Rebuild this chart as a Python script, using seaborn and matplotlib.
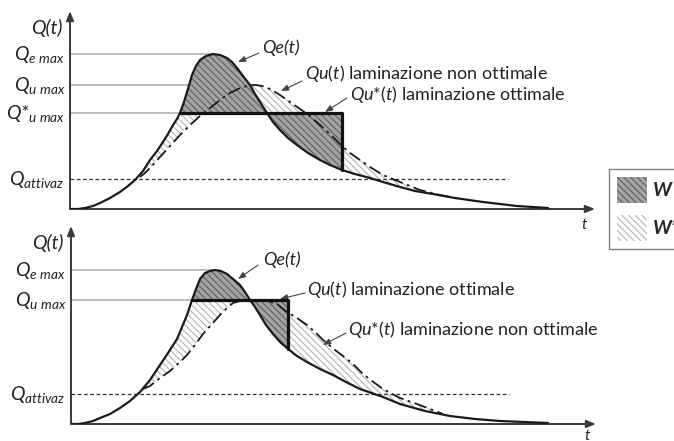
import matplotlib
matplotlib.use("Agg")
import matplotlib.pyplot as plt
from matplotlib.patches import Patch
import seaborn as sns

# ---- top panel: Qe(t) inflow, Qu(t) non optimal, Qu*(t) optimal ----
t_e_top = [0, 8, 15, 23, 30, 40, 50, 58, 65, 73, 80, 87, 93, 98, 103, 107, 110, 114, 117, 120,
           122, 126, 130, 136, 143, 150, 157, 162, 167, 173, 180, 185, 190, 197, 203, 210, 218,
           227, 238, 250, 260, 272, 285, 300, 313, 330, 345, 363, 385, 413, 447, 478]
q_e_top = [0, 0, 1, 3, 6, 11, 17, 23, 29, 38, 49, 58, 67, 75, 84, 90, 96, 107, 117, 127,
           134, 143, 149, 153, 155, 154, 151, 147, 141, 133, 124, 115, 107, 96, 87, 79, 71,
           64, 56, 49, 44, 39, 35, 31, 27, 22, 18, 15, 11, 7, 3, 1]
t_u_top = [70, 75, 80, 90, 100, 110, 120, 130, 140, 150, 160, 170, 180, 186, 192, 200, 210, 220,
           230, 240, 250, 260, 272, 280, 290, 300, 313, 330, 350, 370, 385]
q_u_top = [32, 36, 41, 52, 63, 74, 84, 93, 101, 109, 116, 121, 124, 124, 123, 120, 114, 107,
           100, 93, 84, 75, 63, 56, 49, 42, 34, 27, 19, 14, 11]
t_star_top = [110, 272, 272]
q_star_top = [96, 96, 39]

# ---- bottom panel: Qe(t) inflow, Qu(t) optimal, Qu*(t) non optimal ----
t_e_bot = [0, 7, 14, 22, 29, 39, 49, 59, 69, 79, 89, 97, 106, 111, 116, 121, 125, 129, 134, 139,
           144, 150, 156, 162, 169, 174, 179, 184, 189, 195, 202, 209, 217, 226, 236, 249, 262,
           275, 289, 312, 329, 354, 379, 404, 429, 477]
q_e_bot = [0, 0, 1, 3, 6, 10, 16, 23, 32, 44, 59, 71, 85, 97, 109, 124, 135, 145, 151, 153,
           154, 153, 150, 145, 139, 132, 124, 117, 109, 99, 90, 82, 75, 68, 62, 55, 49,
           42, 35, 27, 20, 13, 8, 5, 3, 1]
t_u_bot = [121, 217, 217]
q_u_bot = [124, 124, 75]
t_star_bot = [72, 79, 89, 99, 109, 116, 124, 132, 141, 149, 156, 162, 169, 179, 187, 194, 200,
              206, 216, 226, 236, 244, 252, 264, 276, 284, 291, 301, 312, 329, 346, 359, 372]
q_star_bot = [35, 38, 46, 53, 62, 69, 79, 90, 100, 109, 116, 121, 123, 124, 124, 123, 122,
              120, 112, 106, 99, 92, 84, 74, 65, 58, 51, 43, 35, 26, 20, 15, 10]

q_attivaz = 30
attivaz_end = 438

sns.set_style("white")
plt.rcParams["font.family"] = ["Lato", "DejaVu Sans"]
plt.rcParams["mathtext.fontset"] = "custom"
plt.rcParams["mathtext.rm"] = "Lato"
plt.rcParams["mathtext.it"] = "Lato:italic"
plt.rcParams["mathtext.bf"] = "Lato:bold"
plt.rcParams["hatch.linewidth"] = 0.9

DARK_FACE, DARK_HATCH = "#a4a4a4", "#646464"
LIGHT_FACE, LIGHT_HATCH = "white", "#bababa"
HATCH = "\\\\\\\\\\"
TXT = "#222222"

W, H = 674, 441
fig = plt.figure(figsize=(W / 100, H / 100), dpi=100)
ax_top = fig.add_axes([70 / W, (H - 209) / H, 530 / W, 201 / H])
ax_bot = fig.add_axes([71 / W, (H - 424) / H, 530 / W, 201 / H])


def segment(ts, qs, t0, t1):
    pts = [(t, q) for t, q in zip(ts, qs) if t0 <= t <= t1]
    return [p[0] for p in pts], [p[1] for p in pts]


def panel(ax, t_e, q_e, t_dd, q_dd, t_step, q_step, levels, level_labels):
    ax.set_xlim(0, 530)
    ax.set_ylim(0, 201)
    ax.axis("off")

    # W* : between Qe and the dash-dot hydrograph
    te, qe = segment(t_e, q_e, t_dd[0], t_dd[-1])
    ax.fill(te + t_dd[::-1], qe + q_dd[::-1], facecolor=LIGHT_FACE, edgecolor=LIGHT_HATCH,
            hatch=HATCH, lw=0, zorder=1)
    # W : between Qe and the stepped (optimal) hydrograph
    te, qe = segment(t_e, q_e, t_step[0], t_step[-1])
    ax.fill(te + t_step[::-1], qe + q_step[::-1], facecolor=DARK_FACE, edgecolor=DARK_HATCH,
            hatch=HATCH, lw=0, zorder=2)

    # reference levels
    for (lev, t_end) in levels:
        ax.plot([0, t_end], [lev, lev], color="#ababab", lw=1.1, zorder=0)
    ax.plot([0, attivaz_end], [q_attivaz, q_attivaz], color="#333333", lw=0.9,
            ls=(0, (3, 2)), zorder=3)

    sns.lineplot(x=t_e, y=q_e, ax=ax, color="#1a1a1a", lw=1.6, zorder=5,
                 estimator=None, sort=False, legend=False)
    sns.lineplot(x=t_dd, y=q_dd, ax=ax, color="#1a1a1a", lw=1.3, zorder=5,
                 linestyle=(0, (7, 2.5, 1.5, 2.5)), estimator=None, sort=False, legend=False)
    sns.lineplot(x=t_step, y=q_step, ax=ax, color="#111111", lw=2.3, zorder=6,
                 estimator=None, sort=False, legend=False)

    # axes with arrows
    arrow = dict(arrowstyle="-|>,head_length=0.55,head_width=0.22", color="#3a3a3a",
                 lw=1.4, shrinkA=0, shrinkB=0)
    ax.annotate("", xy=(525, 0), xytext=(0, 0), arrowprops=arrow, annotation_clip=False)
    ax.annotate("", xy=(0, 198), xytext=(0, 0), arrowprops=arrow, annotation_clip=False)

    ax.text(-8, 181, "Q(t)", ha="right", va="center", fontsize=14, style="italic", color=TXT)
    for lev, lab in zip([l[0] for l in levels] + [q_attivaz], level_labels):
        ax.text(-5, lev - 6, lab, ha="right", va="baseline", fontsize=14, color=TXT,
                style="italic")


panel(ax_top, t_e_top, q_e_top, t_u_top, q_u_top, t_star_top, q_star_top,
      [(max(q_e_top), t_e_top[q_e_top.index(max(q_e_top))]),
       (max(q_u_top), t_u_top[q_u_top.index(max(q_u_top))]),
       (q_star_top[0], t_star_top[0])],
      [r"$Q_{e\ max}$", r"$Q_{u\ max}$", r"$Q$*$_{u\ max}$", r"$Q_{attivaz}$"])
panel(ax_bot, t_e_bot, q_e_bot, t_star_bot, q_star_bot, t_u_bot, q_u_bot,
      [(max(q_e_bot), t_e_bot[q_e_bot.index(max(q_e_bot))]),
       (q_u_bot[0], t_u_bot[0])],
      [r"$Q_{e\ max}$", r"$Q_{u\ max}$", r"$Q_{attivaz}$"])

pointer = dict(arrowstyle="-|>,head_length=0.45,head_width=0.18", color="#444444",
               lw=0.8, shrinkA=0, shrinkB=0)


def callout(ax, text, xy_text, xy_tail, xy_head, italic=False):
    ax.annotate("", xy=xy_head, xytext=xy_tail, arrowprops=pointer, annotation_clip=False)
    ax.text(xy_text[0], xy_text[1], text, ha="left", va="center", fontsize=13, color=TXT,
            style="italic" if italic else "normal")


callout(ax_top, "Qe(t)", (192, 161), (189, 156), (168, 147), italic=True)
callout(ax_top, r"$Qu$($t$) laminazione non ottimale", (235, 136), (232, 128), (211, 118))
callout(ax_top, r"$Qu$*($t$) laminazione ottimale", (280, 115), (277, 111), (255, 97))
callout(ax_bot, "Qe(t)", (192, 164), (187, 159), (167, 145), italic=True)
callout(ax_bot, r"$Qu$($t$) laminazione ottimale", (236, 135), (234, 131), (209, 125))
callout(ax_bot, r"$Qu$*($t$) laminazione non ottimale", (277, 95), (275, 91), (252, 79))

ax_top.text(514, -16, "t", ha="center", va="center", fontsize=11, style="italic",
            color=TXT, clip_on=False)
ax_bot.text(516, -12, "t", ha="center", va="center", fontsize=11, style="italic",
            color=TXT, clip_on=False)

handles = [Patch(facecolor=DARK_FACE, edgecolor=DARK_HATCH, hatch=HATCH, lw=0),
           Patch(facecolor=LIGHT_FACE, edgecolor=LIGHT_HATCH, hatch=HATCH, lw=0)]
leg = fig.legend(handles, ["W", "W*"], loc="upper left",
                 bbox_to_anchor=(609 / W, 1 - 169 / H), frameon=True, fancybox=False,
                 edgecolor="#808080", framealpha=1,
                 prop=dict(family="Lato", style="italic", weight="bold", size=14),
                 handlelength=1.55, handleheight=1.7, labelspacing=0.6, borderpad=0.4,
                 handletextpad=0.3, borderaxespad=0)
leg.get_frame().set_linewidth(1.0)

fig.savefig("out.png", dpi=100)
